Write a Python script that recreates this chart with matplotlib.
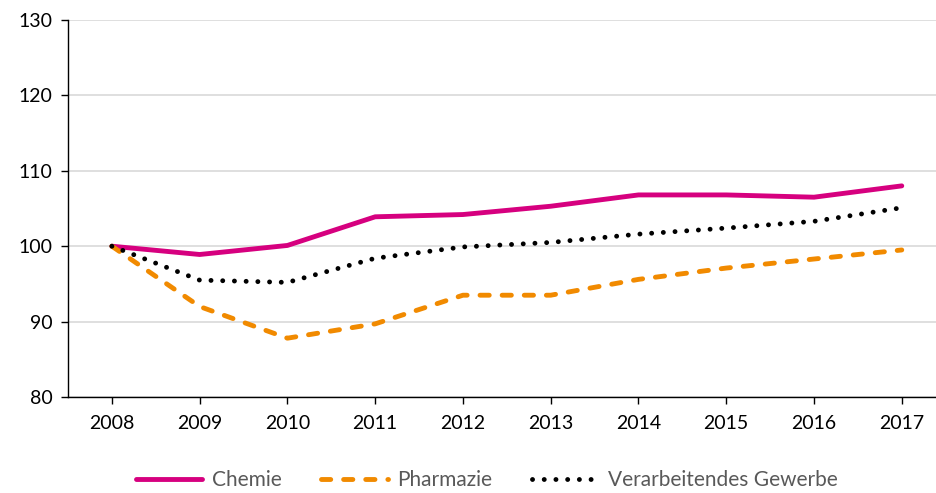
import numpy as np
import matplotlib.pyplot as plt

plt.rcParams['font.family'] = ['Lato', 'DejaVu Sans']

years = ['2008', '2009', '2010', '2011', '2012', '2013', '2014', '2015', '2016', '2017']
chemie = [100.0, 98.9, 100.1, 103.9, 104.2, 105.3, 106.8, 106.8, 106.5, 108.0]
pharmazie = [100.0, 92.0, 87.8, 89.7, 93.5, 93.5, 95.6, 97.1, 98.3, 99.5]
gewerbe = [100.0, 95.5, 95.2, 98.4, 99.9, 100.5, 101.6, 102.4, 103.3, 105.1]

fig = plt.figure(figsize=(9.36, 4.93), dpi=100)
ax = fig.add_axes([68/936, 1-397/493, 1-68/936, 377/493])
x = np.arange(len(years))

ax.plot(x, chemie, color='#D6007F', lw=3.5, solid_capstyle='round', label='Chemie')
ax.plot(x, pharmazie, color='#F18A00', lw=3.5, linestyle=(0, (1.9, 2.65)),
        dash_capstyle='round', label='Pharmazie')
ax.plot(x, gewerbe, color='black', lw=3.5, linestyle=(0, (0.01, 2.4)),
        dash_capstyle='round', label='Verarbeitendes Gewerbe')

ax.set_ylim(80, 130)
ax.set_yticks(np.arange(80, 131, 10))
ax.set_xlim(-0.5, 9.39)
ax.set_xticks(x)
ax.set_xticklabels(years)
ax.grid(axis='y', color='#D9D9D9', lw=1.2)
ax.set_axisbelow(True)
for s in ['top', 'right']:
    ax.spines[s].set_visible(False)
ax.spines['left'].set_linewidth(1.0)
ax.spines['bottom'].set_linewidth(1.0)
ax.tick_params(axis='both', labelsize=14, length=5, width=1.0, colors='black')
ax.tick_params(axis='x', pad=8)
ax.tick_params(axis='y', pad=6)

leg = fig.legend(loc='center', bbox_to_anchor=(0.520, 1-480/493), ncol=3, frameon=False,
                 fontsize=15, handlelength=3.2, handletextpad=0.45, columnspacing=1.9)
for t in leg.get_texts():
    t.set_color('#595959')

fig.savefig('out.png', dpi=100)
